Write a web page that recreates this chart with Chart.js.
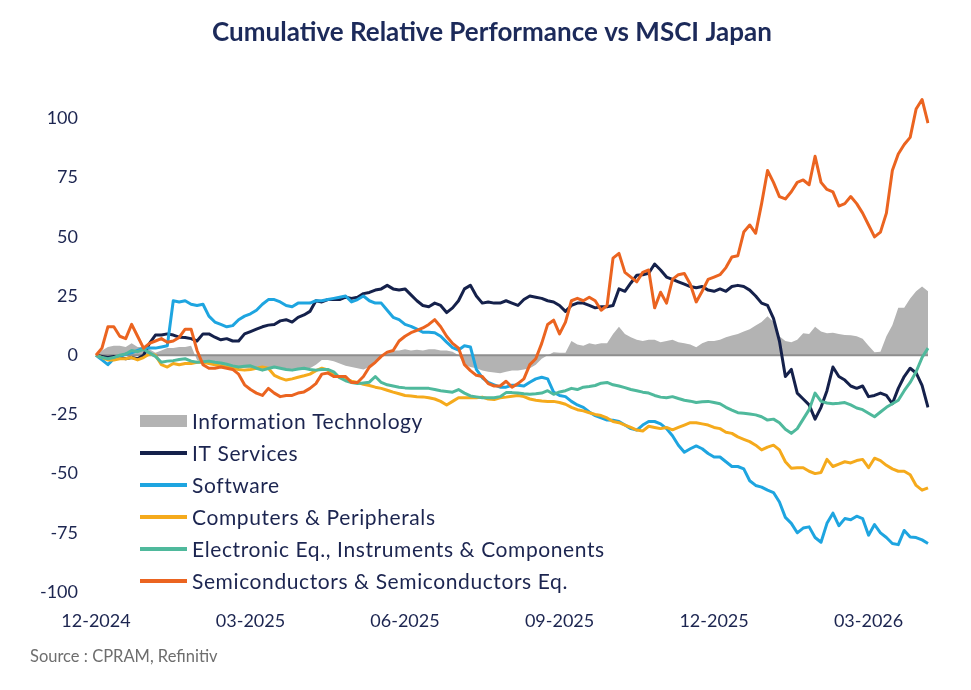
<!DOCTYPE html>
<html><head><meta charset="utf-8">
<script src="https://cdn.jsdelivr.net/npm/chart.js@4.4.1/dist/chart.umd.min.js"></script>
<style>html,body{margin:0;padding:0;background:#fff}#wrap{width:971px;height:690px;position:relative}</style>
</head><body><div id="wrap"><canvas id="c"></canvas></div>
<script>
// ---- data (twice-weekly observations, Dec 2024 -> Apr 2026) ----
const obsIndex = Array.from({length: 141}, (_, i) => i);
const xTickLabels = ['12-2024','03-2025','06-2025','09-2025','12-2025','03-2026'];
const xTickEvery = 26;
const yTickValues = [-100,-75,-50,-25,0,25,50,75,100];

const chartTitle = 'Cumulative Relative Performance vs MSCI Japan';
const sourceNote = 'Source : CPRAM, Refinitiv';
const seriesNames = ['Information Technology','IT Services','Software','Computers & Peripherals','Electronic Eq., Instruments & Components','Semiconductors & Semiconductors Eq.'];

const itSector = [
0,2,3.5,4,4,3.5,5,3.5,3.5,2.5,
1,2,3,3,3.5,3.5,4,-2,-3,-3.5,
-3.5,-4,-4.5,-5,-5,-5.5,-5.5,-5,-6,-5.5,
-5,-5.5,-6,-6,-6,-5.5,-5.5,-4,-2,-2,
-2.5,-3.5,-4.5,-5,-5.5,-6,-5,-3.5,-0.5,1.5,
2,2,2.5,2,2.3,2,2.5,2.5,2,2,
1.5,0,-4,-5,-5.5,-6.5,-7,-7.3,-7.6,-7,
-6.5,-6.5,-6,-5.5,-4,-1.5,0,1.3,1,1,
6,4.5,4,5,4.5,5,5,9,12,9,
7.6,6.5,6,6.5,6.5,5.5,6,6.5,5.5,5,
4.5,3.4,5,6,6,6.5,7.6,8.3,9,10,
11,12.5,14,16.5,14,8,6,5.5,6.5,9.3,
9,12,10,9.3,9.5,9,8.5,8.4,8,7,
4,1.3,1.5,8,12.7,20,20,24,27,29,
27];
const itServices = [
0,-0.5,-1,-0.5,-1,-1.5,-1,-1.5,0,5,
8.5,8.5,9,8.5,7.6,7.5,7,6,9,9,
7.6,6.5,7,6,6,9,10,11,12,12.7,
13,14.5,15,14,16,17,18.5,23,22.5,23.5,
23.5,23.5,24.5,24,24.5,26,26.5,27.5,28,29.5,
28,27.5,28,25.5,23,21,20.5,22,21,18,
20,23,28,29.5,25,22,22.5,22,22,23,
22,21,23.5,25,24.5,24,23,22.5,21,18.5,
21,22,22,21,20,20.5,20.5,21,28,27,
30.5,33.8,34,34.6,38.5,36,33,32,31,30,
29,28.5,29,27.5,27,28,27,29,29.5,29,
27.5,25,22,21,15.6,6,-9,-6,-16,-18.5,
-21,-27,-22,-15,-5,-9,-10.5,-13,-14,-13,
-17.5,-17,-16,-17,-20.5,-14,-9,-5.5,-7.5,-12.7,
-22];
const software = [
0,-2,-4,-1.5,-0.5,0.5,1,2,3,3,
3,3.5,4,23,22.5,23,21.5,21,21.5,16.5,
14,13,12,12.5,15,16.5,17.5,19,21.5,23.5,
23.5,22.5,21,20.5,22,22,22,23,23,23.5,
24,24.5,25,22.5,23.5,25,23,22,22,19,
16,15,13,12.2,11,9.7,9.7,9.5,8,5.5,
3.2,2.2,4,3.5,-6,-9.5,-11.5,-12.5,-13.5,-13.5,
-12.7,-12.7,-13,-11.4,-10,-9.3,-10,-15.6,-17,-17.5,
-19.5,-21,-22,-24,-25.5,-26.5,-27.4,-27.5,-28,-29.5,
-31,-31.6,-29.5,-28,-28,-29,-31,-34,-38,-41,
-39.5,-38.3,-39.5,-41.5,-43,-43,-45,-47,-47,-48,
-53,-55,-55.7,-57,-58,-62,-68.5,-71,-75,-73,
-72.5,-77,-79,-71,-66.7,-72,-69,-69.5,-68,-69,
-76,-71.5,-75,-77,-79.5,-80,-74,-76.8,-77,-78,
-79.5];
const computers = [
0,-1,-2,-2,-1.5,-1.5,-1,-2,-1,0.5,
0,-4,-5,-3.5,-4,-3.5,-3.5,-3,-3,-3.5,
-4,-4.5,-5,-5.5,-6,-6.3,-6,-5.5,-5,-5.5,
-8.5,-9.7,-10.5,-10,-9.3,-8.7,-8,-6.5,-5.5,-6.2,
-8.4,-9.3,-10,-11,-11.5,-12.3,-12.8,-13.5,-14,-14.8,
-15.6,-16.3,-17,-17.2,-17.5,-17.6,-18,-18.5,-19.5,-21,
-19.5,-18,-18,-18,-18,-17.7,-18.5,-18.7,-18,-17.7,
-17.3,-17,-17.5,-18.5,-19,-19.3,-19.5,-19.5,-20,-20.7,
-22,-23,-23.5,-24.3,-25,-25.5,-26.5,-28,-28.5,-29.5,
-30.5,-31.6,-32,-30,-30.5,-31,-30.5,-31.5,-30.5,-29.5,
-28.5,-28.5,-29,-29.5,-30.5,-31,-32.5,-33,-34.5,-35.5,
-36.5,-38,-40,-38.8,-38,-40,-45,-47.7,-47.5,-47.5,
-49,-50,-49.5,-44,-47,-46,-45,-45.5,-44.5,-44,
-47.5,-43.5,-44.5,-46.5,-48,-49,-49,-50.5,-55,-57,
-56];
const electronic = [
0,-1,-1.5,-1,0,0.5,2,1.5,2.5,1,
-0.5,-3,-2.5,-2.3,-1.8,-1.5,-2.5,-3,-2.8,-2.5,
-3,-3.3,-3.8,-4.5,-5,-4.7,-4.5,-5.5,-6.3,-5.6,
-5,-5.5,-6,-6.3,-5.8,-5.5,-6,-6.3,-6,-6,
-7,-9.5,-10.8,-11.5,-12,-11.7,-11.4,-9,-11.5,-12.5,
-13,-13.5,-13.8,-14,-14,-14,-14,-14.5,-15,-15.3,
-15.6,-14.5,-16,-17.2,-17.6,-18,-18,-18,-17.5,-15.8,
-15.8,-16,-16.3,-16.5,-16.3,-16,-15,-16.5,-15.5,-15,
-14,-14.5,-13.5,-13.2,-12.8,-11.8,-11.5,-12.5,-13,-13.7,
-14.5,-15,-15.6,-16,-17,-17.7,-18,-17.5,-18.3,-19,
-19.4,-20,-19.7,-19.5,-20,-20.5,-22,-23.2,-24.3,-24.5,
-24.8,-25.2,-26,-27.4,-27,-28.5,-31.3,-33,-31,-27,
-23,-16,-19.5,-20.2,-20.5,-20.3,-20,-21,-22.3,-23,
-24.5,-26,-24,-22,-20.5,-19,-15,-11.5,-7,-1,
3];
const semis = [
0,3,12,12,8,7,13,8,3,5,
6,7,5.5,6,7.5,11,11,2,-4,-5.5,
-5.5,-5,-5.5,-6,-8,-12.5,-14.5,-16,-17,-14,
-16,-17.5,-17,-17,-16,-15.5,-14,-12,-8,-7.5,
-9,-9,-9,-11.5,-11.5,-9,-5,-3,-0.5,1.3,
2,6,8,9.5,10.5,11.5,13,15,12,8,
5,3,-4,-6.5,-8.5,-9,-12,-13,-13,-11,
-13.5,-12,-10,-4,-1.5,5,13,14.8,9,14,
23,24,23,24.5,23,19,21,41,43,35,
33,31,35,36,20,26.6,22,32,34,34.5,
30,22.5,27,32,33,34,37,41.5,42,52,
55,51.5,64,78,73,67,66,69,73,74,
72,84,73,70,69,63,64,67,64,60,
55,50,52,60,78,85,89,92,104,108,
98];

const colors = ['#b3b3b3','#15214b','#1ea5e0','#f5aa1c','#4fb99c','#eb6420'];
const textColor = '#1c2550';
const FONT = 'Lato, "Open Sans", sans-serif';

const allSeries = [itSector, itServices, software, computers, electronic, semis];

const datasets = allSeries.map((vals, k) => {
  const base = {
    label: seriesNames[k],
    data: vals,
    pointRadius: 0,
    tension: 0,
    order: 6 - k
  };
  if (k === 0) {
    return Object.assign(base, {fill: 'origin', backgroundColor: colors[0], borderColor: colors[0], borderWidth: 0});
  }
  return Object.assign(base, {fill: false, borderColor: colors[k], borderWidth: 3, borderJoinStyle: 'round'});
});

const zeroLinePlugin = {
  id: 'zeroLine',
  afterDatasetDraw(chart, args) {
    if (args.index !== 0) return;
    const y = chart.scales.y.getPixelForValue(0);
    const ca = chart.chartArea;
    const ctx = chart.ctx;
    ctx.save();
    ctx.strokeStyle = '#8e8e8e';
    ctx.lineWidth = 2;
    ctx.beginPath(); ctx.moveTo(ca.left, y); ctx.lineTo(ca.right, y); ctx.stroke();
    ctx.restore();
  }
};

const textPlugin = {
  id: 'texts',
  afterDraw(chart) {
    const ctx = chart.ctx;
    ctx.save();
    // title
    ctx.font = 'bold 26px ' + FONT;
    ctx.fillStyle = '#1c2a5a';
    ctx.textAlign = 'center';
    ctx.textBaseline = 'middle';
    ctx.fillText(chartTitle, 492, 33);
    // legend
    const x0 = 140, x1 = 187, tx = 192, y0 = 421, dy = 32;
    ctx.font = '21px ' + FONT;
    if ('letterSpacing' in ctx) ctx.letterSpacing = '0.6px';
    ctx.textAlign = 'left';
    seriesNames.forEach((name, k) => {
      const y = y0 + k * dy;
      if (k === 0) {
        ctx.fillStyle = colors[0];
        ctx.fillRect(x0, y - 6, x1 - x0, 12);
      } else {
        ctx.strokeStyle = colors[k];
        ctx.lineWidth = 4;
        ctx.beginPath(); ctx.moveTo(x0, y); ctx.lineTo(x1, y); ctx.stroke();
      }
      ctx.fillStyle = textColor;
      ctx.fillText(name, tx, y + 1);
    });
    // source
    if ('letterSpacing' in ctx) ctx.letterSpacing = '0px';
    ctx.font = '16.5px ' + FONT;
    ctx.fillStyle = '#6e6e6e';
    ctx.fillText(sourceNote, 30, 657);
    ctx.restore();
  }
};

new Chart(document.getElementById('c'), {
  type: 'line',
  data: { labels: obsIndex, datasets },
  plugins: [zeroLinePlugin, textPlugin],
  options: {
    responsive: true,
    maintainAspectRatio: false,
    animation: false,
    devicePixelRatio: 1,
    layout: { padding: { left: 0, right: 43, top: 90, bottom: 58 } },
    plugins: {
      legend: { display: false },
      tooltip: { enabled: false },
      title: { display: false }
    },
    scales: {
      x: {
        type: 'category',
        offset: false,
        grid: { display: false, drawTicks: false },
        border: { display: false },
        afterFit(s) { s.height = 40; },
        ticks: {
          autoSkip: false,
          maxRotation: 0,
          minRotation: 0,
          padding: 18,
          color: textColor,
          font: { family: FONT, size: 18 },
          callback(val, idx) { return idx % xTickEvery === 0 ? xTickLabels[idx / xTickEvery] : null; }
        }
      },
      y: {
        min: -100,
        max: 112,
        afterBuildTicks(s) { s.ticks = yTickValues.map(v => ({ value: v })); },
        afterFit(s) { s.width = 96; },
        grid: { display: false, drawTicks: false },
        border: { display: false },
        ticks: {
          padding: 18,
          color: textColor,
          font: { family: FONT, size: 18 },
          callback(v) { return String(v); }
        }
      }
    }
  }
});
</script>
</body></html>
